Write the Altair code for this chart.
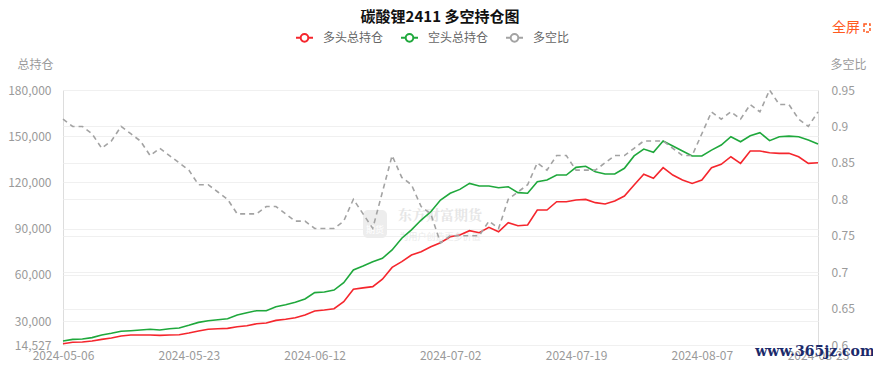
import altair as alt
import pandas as pd

dates = [
    "2024-05-06", "2024-05-07", "2024-05-08", "2024-05-09", "2024-05-10",
    "2024-05-13", "2024-05-14", "2024-05-15", "2024-05-16", "2024-05-17",
    "2024-05-20", "2024-05-21", "2024-05-22", "2024-05-23", "2024-05-24",
    "2024-05-27", "2024-05-28", "2024-05-29", "2024-05-30", "2024-05-31",
    "2024-06-03", "2024-06-04", "2024-06-05", "2024-06-06", "2024-06-07",
    "2024-06-11", "2024-06-12", "2024-06-13", "2024-06-14",
    "2024-06-17", "2024-06-18", "2024-06-19", "2024-06-20", "2024-06-21",
    "2024-06-24", "2024-06-25", "2024-06-26", "2024-06-27", "2024-06-28",
    "2024-07-01", "2024-07-02", "2024-07-03", "2024-07-04", "2024-07-05",
    "2024-07-08", "2024-07-09", "2024-07-10", "2024-07-11", "2024-07-12",
    "2024-07-15", "2024-07-16", "2024-07-17", "2024-07-18", "2024-07-19",
    "2024-07-22", "2024-07-23", "2024-07-24", "2024-07-25", "2024-07-26",
    "2024-07-29", "2024-07-30", "2024-07-31", "2024-08-01", "2024-08-02",
    "2024-08-05", "2024-08-06", "2024-08-07", "2024-08-08", "2024-08-09",
    "2024-08-12", "2024-08-13", "2024-08-14", "2024-08-15", "2024-08-16",
    "2024-08-19", "2024-08-20", "2024-08-21", "2024-08-22", "2024-08-23",
]

long_oi = [
    15300, 16300, 16500, 17100, 18200, 19100, 20400, 21000, 21000, 21000,
    20800, 21000, 21200, 22300, 23600, 24700, 25100, 25300, 26400, 27000,
    28300, 28800, 30500, 31200, 32200, 34000, 36600, 37200, 38100, 42600,
    50700, 51600, 52400, 57200, 64900, 68600, 72900, 75100, 78300, 80900,
    84800, 85900, 88700, 87400, 90900, 88000, 93900, 91900, 92400, 102100,
    102100, 107500, 107500, 108600, 109000, 106900, 106000, 108000, 111200, 118400,
    125300, 122700, 129600, 124800, 121600, 119400, 121600, 129600, 131800, 136700,
    132400, 140400, 140400, 139300, 138900, 138900, 136700, 132400, 132800,
]

short_oi = [
    17100, 18200, 18400, 19300, 21000, 22100, 23400, 23800, 24300, 24700,
    24300, 25100, 25600, 27300, 29200, 30300, 30900, 31600, 34000, 35500,
    36800, 36800, 39400, 40700, 42200, 44400, 48500, 48900, 50200, 55000,
    63200, 65800, 68600, 70800, 76200, 83800, 89200, 95600, 101000, 108600,
    113000, 115500, 119400, 117700, 117700, 116600, 117200, 113400, 113000, 120500,
    121600, 124800, 124800, 129800, 130500, 127000, 125500, 125500, 129200, 137200,
    141700, 139600, 146900, 143700, 140400, 137200, 137200, 141000, 144300, 149700,
    146400, 150300, 152300, 147100, 149700, 150100, 149700, 147600, 145000,
]

ratio = [
    0.91, 0.90, 0.90, 0.89, 0.87, 0.88, 0.90, 0.89, 0.88, 0.86,
    0.87, 0.86, 0.85, 0.84, 0.82, 0.82, 0.81, 0.80, 0.78, 0.78,
    0.78, 0.79, 0.79, 0.78, 0.77, 0.77, 0.76, 0.76, 0.76, 0.77,
    0.80, 0.78, 0.76, 0.81, 0.86, 0.83, 0.82, 0.79, 0.78, 0.74,
    0.75, 0.75, 0.75, 0.75, 0.77, 0.76, 0.80, 0.81, 0.82, 0.85,
    0.84, 0.86, 0.86, 0.84, 0.84, 0.84, 0.85, 0.86, 0.86, 0.87,
    0.88, 0.88, 0.88, 0.87, 0.86, 0.86, 0.89, 0.92, 0.91, 0.92,
    0.91, 0.93, 0.92, 0.95, 0.93, 0.93, 0.91, 0.90, 0.92,
]

series_names = ["多头总持仓", "空头总持仓", "多空比"]
series_colors = ["#f5262d", "#1fa83c", "#a3a3a3"]
x_label_dates = ["2024-05-06", "2024-05-23", "2024-06-12", "2024-07-02",
                 "2024-07-19", "2024-08-07", "2024-08-23"]
left_ticks = [14527, 30000, 60000, 90000, 120000, 150000, 180000]
right_ticks = [0.6, 0.65, 0.7, 0.75, 0.8, 0.85, 0.9, 0.95]
title_text = "碳酸锂2411 多空持仓图"

W, H = 755, 255
FONT = "Noto Sans CJK SC"
AXIS_GRAY = "#9a9a9a"
GRID = "#f0f0f0"

df = pd.DataFrame({
    "date": dates,
    series_names[0]: long_oi,
    series_names[1]: short_oi,
    series_names[2]: ratio,
})

x_enc = alt.X(
    "date:O", sort=None,
    scale=alt.Scale(type="point", padding=0),
    axis=alt.Axis(values=x_label_dates, labelAngle=0, title=None, domain=False,
                  ticks=False, grid=False, labelColor=AXIS_GRAY, labelFontSize=12,
                  labelPadding=5, labelFont=FONT),
)

color_enc = alt.Color(
    "series:N",
    scale=alt.Scale(domain=series_names, range=series_colors),
    legend=alt.Legend(
        title=None, orient="none", legendX=232, legendY=-62, direction="horizontal",
        symbolType="M-1,0L-0.45,0M0.45,0L1,0M0.45,0A0.45,0.45,0,1,1,-0.45,0A0.45,0.45,0,1,1,0.45,0",
        symbolSize=289, symbolStrokeWidth=2, symbolFillColor="white",
        labelFontSize=12, labelColor="#666666", labelFont=FONT, labelOffset=9,
        columnPadding=13,
    ),
)

base = alt.Chart(df)

oi_layer = base.transform_fold(
    series_names[:2], as_=["series", "value"]
).mark_line(strokeWidth=1.6).encode(
    x=x_enc,
    y=alt.Y("value:Q",
            scale=alt.Scale(domain=[left_ticks[0], left_ticks[-1]], nice=False, zero=False),
            axis=alt.Axis(orient="left", values=left_ticks, format=",d", title="总持仓",
                          titleAngle=0, titleX=-28, titleY=-26, titleAlign="center",
                          titleBaseline="middle", titleColor=AXIS_GRAY, titleFontSize=12,
                          titleFontWeight="normal", titleFont=FONT,
                          domain=False, ticks=False, grid=True, gridColor=GRID,
                          labelColor=AXIS_GRAY, labelFontSize=12, labelPadding=12,
                          labelFont=FONT)),
    color=color_enc,
)

ratio_layer = base.transform_fold(
    series_names[2:], as_=["series", "value"]
).mark_line(strokeWidth=1.6, strokeDash=[5, 4]).encode(
    x=x_enc,
    y=alt.Y("value:Q",
            scale=alt.Scale(domain=[right_ticks[0], right_ticks[-1]], nice=False, zero=False),
            axis=alt.Axis(orient="right", values=right_ticks, format=".2~f", title="多空比",
                          titleAngle=0, titleX=30, titleY=-26, titleAlign="center",
                          titleBaseline="middle", titleColor=AXIS_GRAY, titleFontSize=12,
                          titleFontWeight="normal", titleFont=FONT,
                          domain=False, ticks=False, grid=True, gridColor=GRID,
                          labelColor=AXIS_GRAY, labelFontSize=12, labelPadding=13,
                          labelFont=FONT)),
    color=color_enc,
)

one = pd.DataFrame({"t": [0]})

# watermark
wm_box = alt.Chart(one).mark_rect(fill="#ededed", cornerRadius=5).encode(
    x=alt.value(300), x2=alt.value(324), y=alt.value(120), y2=alt.value(148))
wm_box_txt = alt.Chart(one).mark_text(font=FONT, fontSize=9, fill="white").encode(
    x=alt.value(312), y=alt.value(140), text=alt.value("期货"))
wm_main = alt.Chart(one).mark_text(font="Noto Serif CJK SC", fontSize=14, fontWeight="bold",
                                   fill="#e6e6e6").encode(
    x=alt.value(377), y=alt.value(126), text=alt.value("东方财富期货"))
wm_sub = alt.Chart(one).mark_text(font=FONT, fontSize=9, fill="#ebebeb").encode(
    x=alt.value(377), y=alt.value(147), text=alt.value("为用户创造更多价值"))

title_layer = alt.Chart(one).mark_text(font=FONT, fontSize=15, fontWeight="bold",
                                       fill="#111111").encode(
    x=alt.value(377), y=alt.value(-73.5), text=alt.value(title_text))
full_txt = alt.Chart(one).mark_text(font=FONT, fontSize=14, fill="#ff5a1f").encode(
    x=alt.value(783), y=alt.value(-62), text=alt.value("全屏"))
full_icon = alt.Chart(one).mark_rect(fill="white", stroke="#ff5a1f", strokeWidth=1.5,
                                     strokeDash=[3, 2]).encode(
    x=alt.value(801), x2=alt.value(807), y=alt.value(-66), y2=alt.value(-58))
site_wm = alt.Chart(one).mark_text(font="DejaVu Serif", fontSize=14, fontWeight="bold",
                                   fill="#1b2a6b").encode(
    x=alt.value(752), y=alt.value(262), text=alt.value("www.365jz.com"))

chart = alt.layer(
    wm_box, wm_box_txt, wm_main, wm_sub,
    oi_layer, ratio_layer,
    title_layer, full_txt, full_icon, site_wm,
).resolve_scale(y="independent").properties(
    width=W, height=H,
    autosize=alt.AutoSizeParams(type="none"),
    padding={"left": 55, "top": 82, "right": 55, "bottom": 17},
).configure_view(stroke=None).configure(font=FONT)

chart.save("out.html", embed_options={"renderer": "svg", "actions": False})
